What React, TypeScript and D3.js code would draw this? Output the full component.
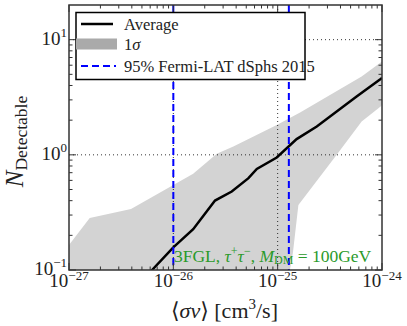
import React, { useRef, useEffect } from 'react';
import * as d3 from 'd3';

// average number of detectable sources vs cross section
const avgSv = [4.0e-27, 6.25e-27, 1.0e-26, 1.55e-26, 2.51e-26, 3.63e-26, 5.25e-26, 6.31e-26, 9.8e-26, 1.52e-25, 2.37e-25, 5.71e-25, 9.7e-25, 1e-24];
const avgN = [0.064, 0.1, 0.157, 0.226, 0.401, 0.48, 0.627, 0.755, 0.948, 1.37, 1.76, 3.21, 4.55, 4.65];

// 1 sigma band
const upSv = [1e-27, 1.58e-27, 3.93e-27, 1.55e-26, 2.61e-26, 3.76e-26, 9.8e-26, 1.64e-25, 6.38e-25, 1e-24];
const upN = [0.165, 0.283, 0.339, 0.684, 1.02, 1.18, 1.82, 2.33, 4.8, 6.47];
const loSv = [1e-27, 1.25e-25, 1.31e-25, 1.4e-25, 1.58e-25, 3.68e-25, 6.38e-25, 9.7e-25, 1e-24];
const loN = [0.05, 0.05, 0.1, 0.141, 0.367, 1.0, 1.95, 2.63, 2.7];

// Fermi-LAT dSphs limits
const limits = [1.0e-26, 1.28e-25];

const xExp = [-27, -26, -25, -24];
const yExp = [-1, 0, 1];

const W = 407;
const H = 326;
const L = 69, R = 382, T = 5, B = 270;
const SERIF = '"Liberation Serif", "DejaVu Serif", serif';

const App = () => {
  const svgRef = useRef<SVGSVGElement>(null);

  useEffect(() => {
    const svg = d3.select(svgRef.current);
    svg.selectAll('*').remove();

    const x = d3.scaleLog().domain([1e-27, 1e-24]).range([L, R]);
    const y = d3.scaleLog().domain([0.1, 20]).range([B, T]);

    svg.append('defs').append('clipPath').attr('id', 'plot')
      .append('rect').attr('x', L).attr('y', T).attr('width', R - L).attr('height', B - T);

    const g = svg.append('g').attr('clip-path', 'url(#plot)');

    // band
    const band = upSv.map((v, i) => [x(v), y(upN[i])] as [number, number])
      .concat(loSv.map((v, i) => [x(v), y(loN[i])] as [number, number]).reverse());
    g.append('path')
      .attr('d', d3.line()(band) + 'Z')
      .attr('fill', '#d3d3d3')
      .attr('stroke', 'none');

    // grid
    const majX = [1e-26, 1e-25];
    const majY = [1, 10];
    g.selectAll('.gx').data(majX).join('line')
      .attr('x1', d => x(d)).attr('x2', d => x(d)).attr('y1', T).attr('y2', B)
      .attr('stroke', '#000').attr('stroke-width', 0.8).attr('stroke-dasharray', '1,3');
    g.selectAll('.gy').data(majY).join('line')
      .attr('y1', d => y(d)).attr('y2', d => y(d)).attr('x1', L).attr('x2', R)
      .attr('stroke', '#000').attr('stroke-width', 0.8).attr('stroke-dasharray', '1,3');

    // average line
    const avgLine = d3.line<number>()
      .x((d, i) => x(avgSv[i]))
      .y(d => y(d));
    g.append('path')
      .attr('d', avgLine(avgN))
      .attr('fill', 'none')
      .attr('stroke', '#000')
      .attr('stroke-width', 2.5);

    // limits
    g.selectAll('.lim').data(limits).join('line')
      .attr('x1', d => x(d)).attr('x2', d => x(d)).attr('y1', T).attr('y2', B)
      .attr('stroke', '#0000ff').attr('stroke-width', 2).attr('stroke-dasharray', '7,4');

    // ticks (inside, all four sides)
    const minorX: number[] = [];
    for (let e = -27; e < -24; e++) for (let m = 2; m < 10; m++) minorX.push(m * Math.pow(10, e));
    const minorY: number[] = [];
    for (let e = -1; e < 2; e++) for (let m = 2; m < 10; m++) {
      const v = m * Math.pow(10, e);
      if (v < 20) minorY.push(v);
    }
    const majXt = xExp.map(e => Math.pow(10, e));
    const majYt = yExp.map(e => Math.pow(10, e));
    const tickG = svg.append('g').attr('stroke', '#333').attr('stroke-width', 1);
    const tk = (vals: number[], len: number, horiz: boolean) => {
      vals.forEach(v => {
        if (horiz) {
          const px = x(v);
          tickG.append('line').attr('x1', px).attr('x2', px).attr('y1', B).attr('y2', B - len);
          tickG.append('line').attr('x1', px).attr('x2', px).attr('y1', T).attr('y2', T + len);
        } else {
          const py = y(v);
          tickG.append('line').attr('y1', py).attr('y2', py).attr('x1', L).attr('x2', L + len);
          tickG.append('line').attr('y1', py).attr('y2', py).attr('x1', R).attr('x2', R - len);
        }
      });
    };
    tk(majXt, 7, true);
    tk(minorX, 3.5, true);
    tk(majYt, 7, false);
    tk(minorY, 3.5, false);

    // frame
    svg.append('rect')
      .attr('x', L).attr('y', T).attr('width', R - L).attr('height', B - T)
      .attr('fill', 'none').attr('stroke', '#333').attr('stroke-width', 1.5);

    // tick labels
    xExp.forEach(e => {
      const t = svg.append('text')
        .attr('x', x(Math.pow(10, e))).attr('y', 287)
        .attr('text-anchor', 'middle')
        .attr('font-family', SERIF).attr('font-size', 19).attr('fill', '#222');
      t.append('tspan').text('10');
      t.append('tspan').attr('dy', -7).attr('font-size', 13).text('\u2212' + Math.abs(e));
    });
    yExp.forEach(e => {
      const t = svg.append('text')
        .attr('x', 67).attr('y', y(Math.pow(10, e)) + 5)
        .attr('text-anchor', 'end')
        .attr('font-family', SERIF).attr('font-size', 19).attr('fill', '#222');
      t.append('tspan').text('10');
      t.append('tspan').attr('dy', -8).attr('font-size', 13).text(e < 0 ? '\u2212' + Math.abs(e) : String(e));
    });

    // axis labels
    const xl = svg.append('text')
      .attr('x', (L + R) / 2 - 1).attr('y', 318)
      .attr('text-anchor', 'middle')
      .attr('font-family', SERIF).attr('font-size', 22).attr('fill', '#222');
    xl.append('tspan').text('\u27e8');
    xl.append('tspan').attr('font-style', 'italic').text('\u03c3v');
    xl.append('tspan').text('\u27e9 [cm');
    xl.append('tspan').attr('dy', -9).attr('font-size', 15).text('3');
    xl.append('tspan').attr('dy', 9).text('/s]');

    const yl = svg.append('text')
      .attr('transform', `translate(23,${(T + B) / 2 + 4}) rotate(-90)`)
      .attr('text-anchor', 'middle')
      .attr('font-family', SERIF).attr('font-size', 25).attr('fill', '#222');
    yl.append('tspan').attr('font-style', 'italic').text('N');
    yl.append('tspan').attr('dy', 4).attr('font-size', 17.5).text('Detectable');

    // annotation
    const ann = svg.append('text')
      .attr('x', 174).attr('y', 261.5)
      .attr('font-family', SERIF).attr('font-size', 17.5).attr('fill', '#2a9a2a');
    ann.append('tspan').text('3FGL, ');
    ann.append('tspan').attr('font-style', 'italic').text('\u03c4');
    ann.append('tspan').attr('dy', -7).attr('font-size', 12).text('+');
    ann.append('tspan').attr('dy', 7).attr('font-style', 'italic').text('\u03c4');
    ann.append('tspan').attr('dy', -7).attr('font-size', 12).text('\u2212');
    ann.append('tspan').attr('dy', 7).text(', ');
    ann.append('tspan').attr('font-style', 'italic').text('M');
    ann.append('tspan').attr('dy', 2.5).attr('font-size', 12).text('DM');
    ann.append('tspan').attr('dy', -2.5).text(' = 100GeV');

    // legend
    const lg = svg.append('g');
    lg.append('rect')
      .attr('x', 76).attr('y', 12.5).attr('width', 229).attr('height', 67)
      .attr('fill', '#fff').attr('stroke', '#000').attr('stroke-width', 1.5);
    const rows = [24, 44, 66];
    lg.append('line').attr('x1', 81).attr('x2', 113).attr('y1', rows[0]).attr('y2', rows[0])
      .attr('stroke', '#000').attr('stroke-width', 2.5);
    lg.append('rect').attr('x', 76).attr('y', rows[1] - 5.5).attr('width', 41).attr('height', 11)
      .attr('fill', '#aaaaaa');
    lg.append('line').attr('x1', 81).attr('x2', 116).attr('y1', rows[2]).attr('y2', rows[2])
      .attr('stroke', '#0000ff').attr('stroke-width', 2).attr('stroke-dasharray', '7,4');
    const labels = ['Average', '1\u03c3', '95% Fermi-LAT dSphs 2015'];
    labels.forEach((s, i) => {
      const t = lg.append('text')
        .attr('x', 124).attr('y', rows[i] + 5.5)
        .attr('font-family', SERIF).attr('font-size', 16.5).attr('fill', '#222');
      if (i === 1) {
        t.append('tspan').text('1');
        t.append('tspan').attr('font-style', 'italic').text('\u03c3');
      } else {
        t.text(s);
      }
    });
  }, []);

  return (
    <svg
      ref={svgRef}
      width={W}
      height={H}
      style={{ position: 'absolute', left: 0, top: 0, background: '#fff' }}
    />
  );
};

export default App;
